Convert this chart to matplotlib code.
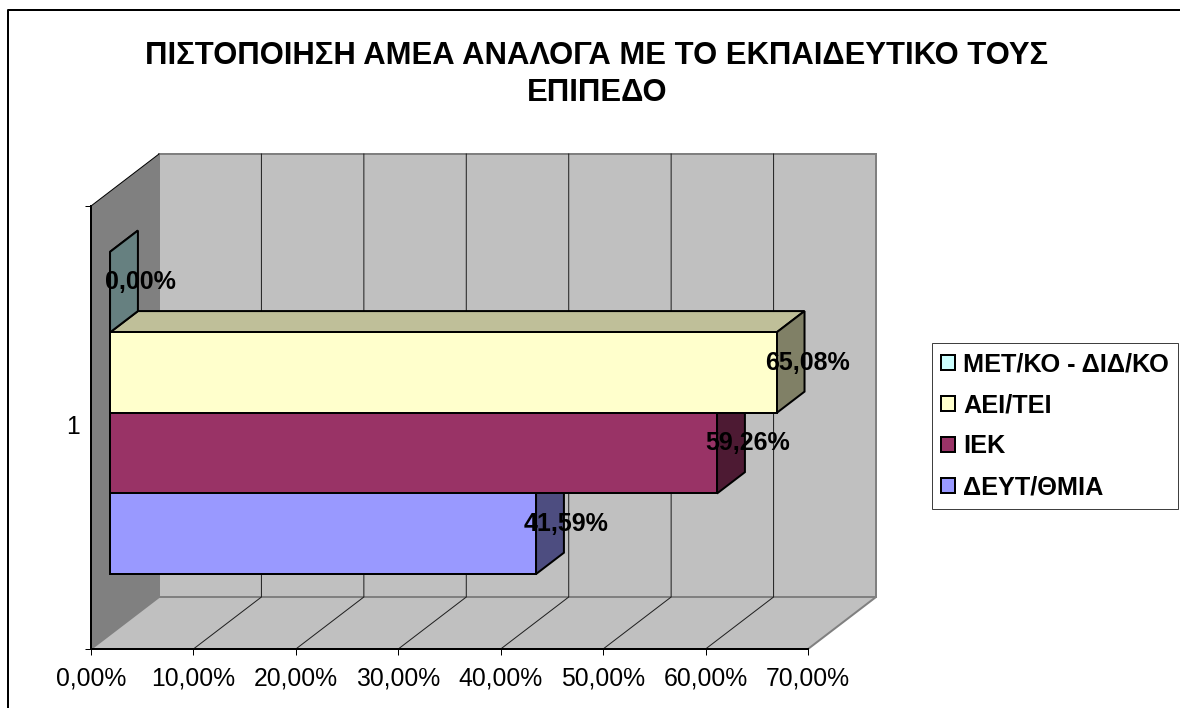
import matplotlib
matplotlib.use("Agg")
import matplotlib.pyplot as plt
from matplotlib.lines import Line2D
from matplotlib.patches import Patch
from matplotlib.transforms import ScaledTranslation

title = "ΠΙΣΤΟΠΟΙΗΣΗ ΑΜΕΑ ΑΝΑΛΟΓΑ ΜΕ ΤΟ ΕΚΠΑΙΔΕΥΤΙΚΟ ΤΟΥΣ\nΕΠΙΠΕΔΟ"
series = ["ΔΕΥΤ/ΘΜΙΑ", "ΙΕΚ", "ΑΕΙ/ΤΕΙ", "ΜΕΤ/ΚΟ - ΔΙΔ/ΚΟ"]
values = [41.59, 59.26, 65.08, 0.00]
ticks = [0, 10, 20, 30, 40, 50, 60, 70]

front = ["#9999FF", "#993366", "#FFFFCC", "#CCFFFF"]
top = ["#7373BF", "#732640", "#BFBF99", "#99BFBF"]
side = ["#4D4D80", "#4D1A33", "#808066", "#668080"]

W, H = 1180, 708
px = 1 / 100 * 72  # points per pixel
plt.rcParams["font.family"] = ["Liberation Sans", "DejaVu Sans"]

fig = plt.figure(figsize=(W / 100, H / 100), dpi=100)
fig.patch.set_facecolor("white")

# chart frame, only top and left fall inside the picture
fig.add_artist(Line2D([7.5 / W, 7.5 / W, 1], [0, 1 - 9.5 / H, 1 - 9.5 / H], transform=fig.transFigure,
                      color="black", lw=2 * px))

# front plane of the 3d box
ax = fig.add_axes([91 / W, 1 - 649 / H, 717 / W, 443 / H])
ax.set_xlim(0, 70)
ax.set_ylim(0.5, 1.5)
ax.patch.set_visible(False)

xscale = 717 / 70
yscale = 443
dx = 68 / xscale
dy = 52 / yscale
ymin, ymax = 0.5, 1.5
xmax = 70

# walls
ax.fill([0, dx, dx, 0], [ymin, ymin + dy, ymax + dy, ymax], fc="#808080", ec="none", clip_on=False, zorder=1)
ax.fill([dx, xmax + dx, xmax + dx, dx], [ymin + dy, ymin + dy, ymax + dy, ymax + dy], fc="#C0C0C0", ec="#808080",
        lw=2 * px, clip_on=False, zorder=1)
ax.fill([0, xmax, xmax + dx, dx], [ymin, ymin, ymin + dy, ymin + dy], fc="#C0C0C0", ec="#808080",
        lw=2 * px, clip_on=False, zorder=1)
ax.plot([0, dx], [ymax, ymax + dy], color="black", lw=1 * px, clip_on=False, zorder=2)

# gridlines
for t in ticks[1:-1]:
    ax.plot([t, t + dx, t + dx], [ymin, ymin + dy, ymax + dy], color="#202020", lw=1 * px, clip_on=False, zorder=2)

# bars, bottom one first so the next front hides its top face
gap = 1.5
bar_h = 1 / (len(values) + gap)
off = 0.28
depth = 0.41
x0 = dx * off
y_start = ymin + dy * off + bar_h * gap / 2
ddx = dx * depth
ddy = dy * depth
for i in range(len(values)):
    v = values[i]
    yb = y_start + i * bar_h
    yt = yb + bar_h
    xr = x0 + v
    kw = dict(ec="black", lw=2 * px, clip_on=False, zorder=3, joinstyle="miter")
    ax.fill([x0, xr, xr + ddx, x0 + ddx], [yt, yt, yt + ddy, yt + ddy], fc=top[i], **kw)
    ax.fill([xr, xr + ddx, xr + ddx, xr], [yb, yb + ddy, yt + ddy, yt], fc=side[i], **kw)
    ax.fill([x0, xr, xr, x0], [yb, yb, yt, yt], fc=front[i], **kw)

for i, v in enumerate(values):
    ax.annotate(f"{v:.2f}%".replace(".", ","), (x0 + v, y_start + (i + 0.5) * bar_h),
                xytext=(30.5 * px, 10 * px), textcoords="offset points", ha="center", va="center",
                fontsize=18, fontweight="bold", color="black", zorder=5, annotation_clip=False)

for s in ["top", "right"]:
    ax.spines[s].set_visible(False)
for s in ["left", "bottom"]:
    ax.spines[s].set_linewidth(2 * px)
    ax.spines[s].set_zorder(2.5)
ax.set_xticks(ticks)
ax.set_xticklabels([f"{t:.2f}%".replace(".", ",") for t in ticks], fontsize=17.8)
ax.set_yticks([0.5, 1.5])
ax.set_yticklabels(["", ""])
ax.set_yticks([1], minor=True)
ax.set_yticklabels(["1"], minor=True, fontsize=17.8)
ax.tick_params(axis="x", length=6 * px, width=1 * px, pad=8)
ax.tick_params(axis="y", length=6 * px, width=1 * px)
ax.tick_params(axis="y", which="minor", length=0, pad=8)
for lab in ax.get_yticklabels(minor=True):
    lab.set_transform(lab.get_transform() + ScaledTranslation(0, 3.5 / 100, fig.dpi_scale_trans))

fig.text(597 / W, 1 - 74.5 / H, title, ha="center", va="center", fontsize=22.3, fontweight="bold", linespacing=1.31)

handles = [Patch(fc=front[i], ec="black", lw=2 * px) for i in range(3, -1, -1)]
leg = fig.legend(handles, [series[i] for i in range(3, -1, -1)], loc="upper left",
                 bbox_to_anchor=(932 / W, 1 - 343 / H), borderaxespad=0, fancybox=False,
                 prop={"size": 18.2, "weight": "bold"}, handlelength=0.55, handleheight=0.55,
                 handletextpad=0.32, labelspacing=0.68, borderpad=0.36, framealpha=1, edgecolor="#404040")
leg.get_frame().set_linewidth(1 * px)

plt.savefig("out.png", dpi=100)
plt.close()
